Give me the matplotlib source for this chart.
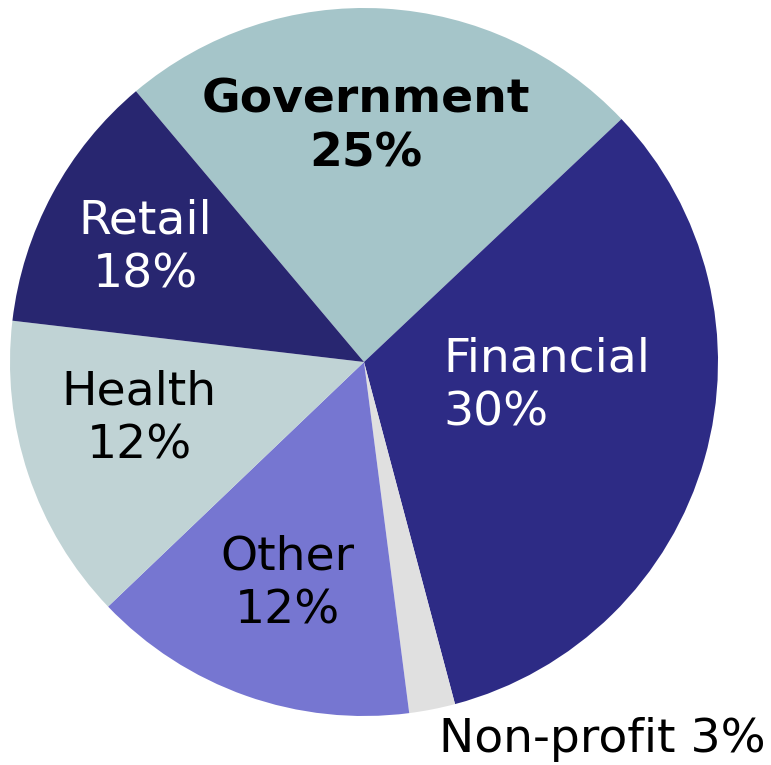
import matplotlib
matplotlib.use("Agg")
import matplotlib.pyplot as plt

categories = ["Government", "Financial", "Non-profit", "Other", "Health", "Retail"]
slice_values = [24.1, 32.9, 2.1, 14.9, 14.0, 12.0]
label_pcts = ["25%", "30%", "3%", "12%", "12%", "18%"]
colors = ["#A5C5C9", "#2D2B85", "#E0E0E0", "#7676D1", "#C0D3D5", "#282670"]

W, H = 771, 765
fig = plt.figure(figsize=(W / 100, H / 100), dpi=100)
cx, cy, R = 364, 362, 354
ax = fig.add_axes([(cx - R) / W, (H - cy - R) / H, 2 * R / W, 2 * R / H])
ax.pie(slice_values, colors=colors, startangle=130.1, counterclock=False,
       radius=1.0, wedgeprops=dict(linewidth=0))
ax.set_xlim(-1, 1)
ax.set_ylim(-1, 1)
ax.set_aspect("equal")
ax.axis("off")

def px(x, y):
    return (x - cx) / R, (cy - y) / R

fs = 34
ls = 1.24
# label placements (pixel anchors in the reference)
places = {
    "Government": ((366, 127), "black", "bold", "center"),
    "Financial": ((443, 386), "white", "normal", "left"),
    "Retail": ((145, 248), "white", "normal", "center"),
    "Health": ((139, 419), "black", "normal", "center"),
    "Other": ((287, 584), "black", "normal", "center"),
}
for cat, pct in zip(categories, label_pcts):
    if cat in places:
        (x, y), col, wt, ha = places[cat]
        dx, dy = px(x, y)
        ax.text(dx, dy, f"{cat}\n{pct}", color=col, fontsize=fs,
                fontweight=wt, ha=ha, va="center", linespacing=ls,
                multialignment=ha)

i = categories.index("Non-profit")
fig.text(766 / W, 1 - 740 / H, f"{categories[i]} {label_pcts[i]}", color="black",
         fontsize=fs, ha="right", va="center")

fig.savefig("out.png", dpi=100)
